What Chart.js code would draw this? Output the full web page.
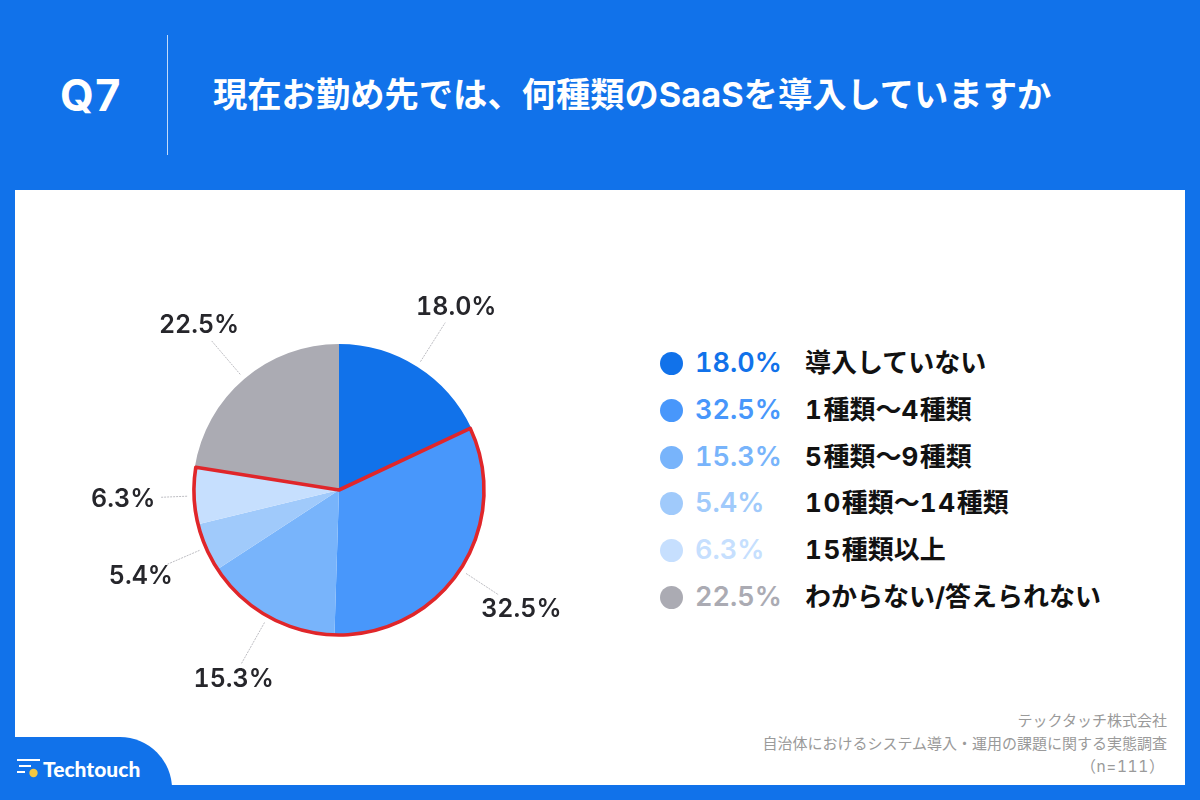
<!DOCTYPE html>
<html lang="ja">
<head>
<meta charset="UTF-8" />
<title>Q7</title>
<script src="https://cdn.jsdelivr.net/npm/chart.js"></script>
<style>
  html, body { margin: 0; padding: 0; }
  body { width: 1200px; height: 800px; position: relative; overflow: hidden; background: #1172ea;
         font-family: Inter, "Noto Sans CJK JP", sans-serif; font-feature-settings: "tnum"; }
  .abs { position: absolute; white-space: nowrap; }
  #panel { left: 15px; top: 190px; width: 1170px; height: 595px; background: #fff; }
  #q { left: 60px; top: 68px; font-size: 43.5px; line-height: 54px; font-weight: 700; color: #fff; }
  #divider { left: 167px; top: 35px; width: 1px; height: 120px; background: rgba(255,255,255,.75); }
  #title { left: 213px; top: 73px; font-size: 34.3px; line-height: 44px; font-weight: 700; color: #fff; }
  #tab { left: 0; top: 737px; width: 172px; height: 63px; background: #1172ea; border-top-right-radius: 52px; }
  #brand { left: 43px; top: 755px; font-family: Lato, sans-serif; font-size: 21px; line-height: 28px; font-weight: 900; color: #fff; }
  #note { right: 33px; top: 709px; text-align: right; font-size: 15px; line-height: 23px; color: #9a9a9a; }
  #note span { display: block; padding-right: 2px; font-size: 15.5px; letter-spacing: .6px; }
  #chart { position: absolute; left: 0; top: 0; }
  .row { position: absolute; left: 660px; height: 36px; }
  .dot { position: absolute; left: 0; top: 7px; width: 23px; height: 23px; border-radius: 50%; }
  .pct { position: absolute; left: 35px; top: 0; font-size: 27px; line-height: 36px; font-weight: 600; }
  .cat { position: absolute; left: 145px; top: 0; font-size: 26px; line-height: 36px; font-weight: 700; color: #111; white-space: nowrap; }
  .cat b { font-weight: 700; letter-spacing: 1.6px; }
  .val { position: absolute; transform: translate(-50%, -50%); font-size: 25px; line-height: 30px; font-weight: 600; color: #26262b; white-space: nowrap; }
</style>
</head>
<body>
  <div id="panel" class="abs"></div>
  <div id="q" class="abs">Q7</div>
  <div id="divider" class="abs"></div>
  <div id="title" class="abs">現在お勤め先では、何種類のSaaSを導入していますか</div>
  <div id="tab" class="abs"></div>
  <svg class="abs" style="left:17px;top:758px" width="24" height="20" viewBox="0 0 24 20">
    <path d="M0 2H23M2 8H14M0 14H8" stroke="#fff" stroke-width="2" fill="none" />
    <circle cx="16.5" cy="15" r="4.2" fill="#f5c842" />
  </svg>
  <div id="brand" class="abs">Techtouch</div>
  <div id="note" class="abs">テックタッチ株式会社<br>自治体におけるシステム導入・運用の課題に関する実態調査<span>（n=111）</span></div>
  <div id="legend"></div>
  <canvas id="chart" width="1200" height="800"></canvas>
  <div id="valueLabels"></div>

  <script>
    const categories = ['導入していない', '1種類〜4種類', '5種類〜9種類', '10種類〜14種類', '15種類以上', 'わからない/答えられない'];
    const values = [18.0, 32.5, 15.3, 5.4, 6.3, 22.5];
    const colors = ['#1172ea', '#4897fb', '#78b4fb', '#a0cafb', '#c6dffe', '#ababb3'];

    // legend rows on the right
    const legend = document.getElementById('legend');
    categories.forEach((name, i) => {
      const row = document.createElement('div');
      row.className = 'row';
      row.style.top = (345 + i * 46.8) + 'px';
      row.innerHTML = `<div class="dot" style="background:${colors[i]}"></div>` +
        `<div class="pct" style="color:${colors[i]}">${values[i].toFixed(1)}%</div>` +
        `<div class="cat">${name.replace(/\d+/g, '<b>$&</b>')}</div>`;
      legend.appendChild(row);
    });

    // red outline around the slices of companies that use SaaS (1種類〜15種類以上)
    const outlinePlugin = {
      id: 'outline',
      afterDatasetsDraw(chart) {
        const { ctx } = chart;
        const arcs = chart.getDatasetMeta(0).data;
        const { x, y, outerRadius } = arcs[0];
        ctx.save();
        ctx.beginPath();
        ctx.moveTo(x, y);
        ctx.arc(x, y, outerRadius - 1, arcs[1].startAngle, arcs[4].endAngle);
        ctx.closePath();
        ctx.strokeStyle = '#e0262a';
        ctx.lineWidth = 3.6;
        ctx.lineJoin = 'round';
        ctx.stroke();
        ctx.restore();
      }
    };

    // percent labels and thin leader lines outside the pie
    const labelPlugin = {
      id: 'outsideLabels',
      afterDatasetsDraw(chart) {
        const { ctx } = chart;
        const box = document.getElementById('valueLabels');
        box.innerHTML = '';
        chart.getDatasetMeta(0).data.forEach((arc, i) => {
          const mid = (arc.startAngle + arc.endAngle) / 2;
          const c = Math.cos(mid), s = Math.sin(mid);
          const r0 = arc.outerRadius + 6;
          const r1 = arc.outerRadius + 32 + 24 * Math.abs(s);
          const r2 = arc.outerRadius + 71;
          ctx.save();
          ctx.strokeStyle = '#bdbdc2';
          ctx.lineWidth = 1;
          ctx.setLineDash([2, 1]);
          ctx.beginPath();
          ctx.moveTo(arc.x + c * r0, arc.y + s * r0);
          ctx.lineTo(arc.x + c * r1, arc.y + s * r1);
          ctx.stroke();
          ctx.restore();
          const label = document.createElement('div');
          label.className = 'val';
          label.textContent = values[i].toFixed(1) + '%';
          label.style.left = (arc.x + c * r2 + 1) + 'px';
          label.style.top = (arc.y + s * r2 - 1) + 'px';
          box.appendChild(label);
        });
      }
    };

    new Chart(document.getElementById('chart').getContext('2d'), {
      type: 'pie',
      data: {
        labels: categories,
        datasets: [{ data: values, backgroundColor: colors, borderWidth: 0 }]
      },
      options: {
        responsive: false,
        animation: false,
        layout: { padding: { left: 193, right: 715, top: 344, bottom: 164 } },
        plugins: { legend: { display: false }, tooltip: { enabled: false } }
      },
      plugins: [outlinePlugin, labelPlugin]
    });
  </script>
</body>
</html>
